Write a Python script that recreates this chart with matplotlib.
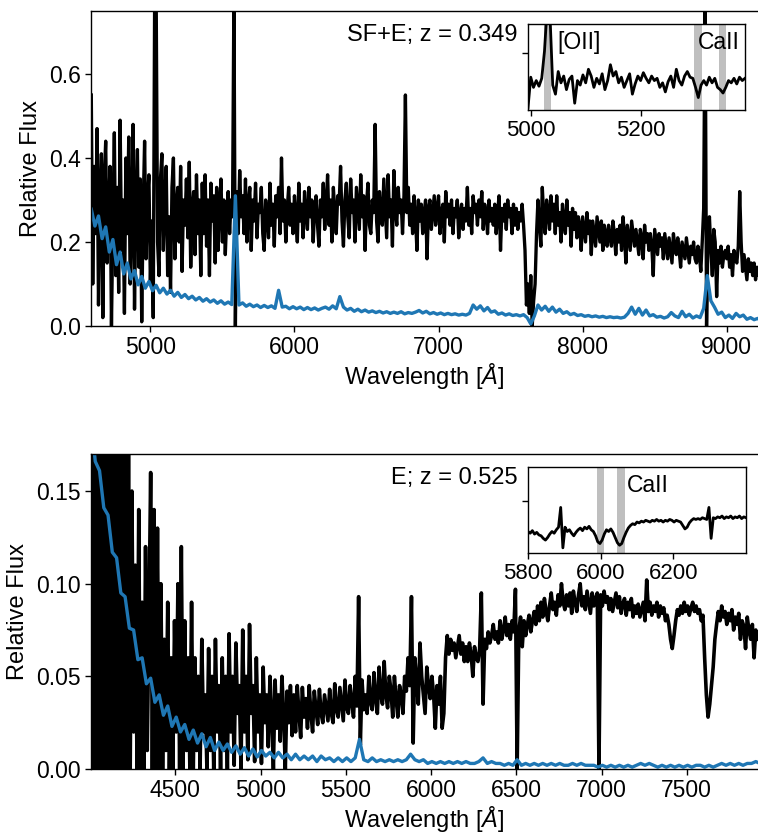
import numpy as np
import matplotlib.pyplot as plt

plt.rcParams['font.family'] = ['Liberation Sans', 'DejaVu Sans']
plt.rcParams['mathtext.fontset'] = 'custom'
plt.rcParams['mathtext.rm'] = 'Liberation Sans'
plt.rcParams['mathtext.it'] = 'Liberation Sans:italic'

# ---- SF+E; z = 0.349 : galaxy flux (black), 10 A bins from 4590 A
sfe_start, sfe_step = 4590, 10
sfe_flux = [
    0.55, 0.10, 0.38, 0.22, 0.47, 0.05, 0.30, 0.41, 0.02, 0.35, 0.44, 0.15, 0.28, 0.38, 0.00, 0.25, 0.46, 0.12, 0.33, 0.08,
    0.49, 0.18, 0.30, 0.03, 0.40, 0.22, 0.45, 0.10, 0.26, 0.48, 0.04, 0.30, 0.42, 0.14, 0.35, 0.01, 0.28, 0.44, 0.16, 0.30,
    0.36, 0.10, 0.25, 0.02, 0.80, 0.80, 0.20, 0.12, 0.35, 0.41, 0.18, 0.30, 0.38, 0.12, 0.26, 0.08, 0.33, 0.40, 0.16, 0.28,
    0.33, 0.20, 0.38, 0.13, 0.30, 0.24, 0.35, 0.21, 0.39, 0.14, 0.28, 0.32, 0.17, 0.36, 0.22, 0.30, 0.12, 0.34, 0.22, 0.36,
    0.19, 0.30, 0.12, 0.34, 0.25, 0.31, 0.15, 0.33, 0.18, 0.28, 0.35, 0.20, 0.30, 0.17, 0.26, 0.32, 0.22, 0.30, 0.26, 0.80,
    0.00, 0.32, 0.22, 0.37, 0.26, 0.31, 0.22, 0.35, 0.20, 0.29, 0.33, 0.18, 0.30, 0.25, 0.34, 0.21, 0.29, 0.27, 0.33, 0.22,
    0.18, 0.30, 0.26, 0.21, 0.34, 0.24, 0.29, 0.19, 0.31, 0.26, 0.33, 0.22, 0.40, 0.25, 0.30, 0.20, 0.28, 0.33, 0.24, 0.29,
    0.22, 0.31, 0.26, 0.20, 0.34, 0.25, 0.29, 0.21, 0.32, 0.27, 0.23, 0.33, 0.26, 0.30, 0.20, 0.28, 0.31, 0.24, 0.19, 0.30,
    0.26, 0.34, 0.23, 0.29, 0.36, 0.24, 0.30, 0.20, 0.33, 0.27, 0.22, 0.31, 0.29, 0.38, 0.25, 0.19, 0.30, 0.34, 0.26, 0.21,
    0.35, 0.27, 0.30, 0.20, 0.33, 0.28, 0.23, 0.36, 0.26, 0.31, 0.18, 0.29, 0.34, 0.24, 0.22, 0.30, 0.27, 0.48, 0.25, 0.20,
    0.32, 0.27, 0.24, 0.35, 0.28, 0.21, 0.36, 0.26, 0.30, 0.19, 0.37, 0.28, 0.24, 0.33, 0.27, 0.30, 0.22, 0.31, 0.55, 0.27,
    0.33, 0.24, 0.29, 0.22, 0.31, 0.26, 0.18, 0.30, 0.25, 0.29, 0.22, 0.27, 0.30, 0.16, 0.28, 0.30, 0.23, 0.27, 0.31, 0.24,
    0.28, 0.31, 0.22, 0.27, 0.29, 0.20, 0.32, 0.26, 0.29, 0.24, 0.30, 0.22, 0.28, 0.26, 0.30, 0.21, 0.27, 0.29, 0.23, 0.28,
    0.25, 0.33, 0.24, 0.28, 0.22, 0.31, 0.27, 0.29, 0.24, 0.30, 0.26, 0.32, 0.23, 0.29, 0.27, 0.22, 0.30, 0.25, 0.28, 0.24,
    0.29, 0.22, 0.27, 0.31, 0.18, 0.28, 0.25, 0.29, 0.23, 0.30, 0.26, 0.28, 0.22, 0.29, 0.24, 0.28, 0.23, 0.27, 0.25, 0.29,
    0.24, 0.18, 0.05, 0.10, 0.03, 0.12, 0.00, 0.06, 0.10, 0.22, 0.30, 0.24, 0.19, 0.33, 0.26, 0.22, 0.30, 0.27, 0.23, 0.31,
    0.25, 0.29, 0.22, 0.31, 0.24, 0.27, 0.20, 0.29, 0.25, 0.22, 0.30, 0.24, 0.27, 0.19, 0.28, 0.23, 0.27, 0.21, 0.26, 0.24,
    0.18, 0.26, 0.23, 0.20, 0.27, 0.22, 0.25, 0.17, 0.25, 0.22, 0.19, 0.26, 0.23, 0.20, 0.25, 0.18, 0.24, 0.22, 0.19, 0.24,
    0.21, 0.19, 0.25, 0.22, 0.17, 0.23, 0.20, 0.24, 0.18, 0.26, 0.22, 0.15, 0.24, 0.21, 0.18, 0.25, 0.22, 0.19, 0.23, 0.20,
    0.17, 0.23, 0.21, 0.16, 0.24, 0.20, 0.22, 0.18, 0.22, 0.19, 0.12, 0.23, 0.20, 0.17, 0.22, 0.19, 0.21, 0.16, 0.22, 0.19,
    0.16, 0.21, 0.18, 0.15, 0.22, 0.19, 0.17, 0.21, 0.18, 0.14, 0.20, 0.18, 0.16, 0.21, 0.18, 0.15, 0.19, 0.17, 0.20, 0.16,
    0.15, 0.19, 0.17, 0.13, 0.20, 0.28, 0.80, 0.00, 0.22, 0.26, 0.18, 0.12, 0.23, 0.20, 0.07, 0.18, 0.15, 0.19, 0.14, 0.17,
    0.18, 0.16, 0.19, 0.14, 0.17, 0.12, 0.18, 0.16, 0.15, 0.19, 0.32, 0.20, 0.13, 0.17, 0.14, 0.11, 0.16, 0.13, 0.15, 0.12,
    0.15, 0.11, 0.14, 0.12, 0.14,
]
# noise spectrum (blue), 25 A bins
sfe_err_start, sfe_err_step = 4590, 25
sfe_err = [
    0.278, 0.238, 0.262, 0.208, 0.236, 0.176, 0.206, 0.146, 0.176, 0.124,
    0.150, 0.112, 0.132, 0.098, 0.118, 0.090, 0.106, 0.084, 0.097, 0.079,
    0.090, 0.076, 0.085, 0.071, 0.080, 0.068, 0.075, 0.065, 0.071, 0.062,
    0.068, 0.059, 0.065, 0.057, 0.062, 0.054, 0.060, 0.052, 0.057, 0.051,
    0.310, 0.050, 0.055, 0.047, 0.052, 0.046, 0.050, 0.044, 0.049, 0.044,
    0.048, 0.042, 0.085, 0.045, 0.047, 0.041, 0.046, 0.041, 0.045, 0.039,
    0.044, 0.039, 0.043, 0.038, 0.042, 0.045, 0.040, 0.048, 0.041, 0.070,
    0.045, 0.038, 0.042, 0.035, 0.040, 0.034, 0.038, 0.033, 0.036, 0.032,
    0.035, 0.031, 0.034, 0.030, 0.033, 0.030, 0.034, 0.029, 0.032, 0.030,
    0.033, 0.037, 0.031, 0.035, 0.029, 0.032, 0.028, 0.031, 0.027, 0.030,
    0.027, 0.029, 0.026, 0.028, 0.026, 0.030, 0.050, 0.040, 0.048, 0.036,
    0.044, 0.033, 0.036, 0.028, 0.031, 0.026, 0.029, 0.025, 0.027, 0.024,
    0.027, 0.020, 0.005, 0.024, 0.050, 0.038, 0.047, 0.035, 0.045, 0.033,
    0.040, 0.030, 0.034, 0.027, 0.030, 0.025, 0.027, 0.023, 0.025, 0.022,
    0.024, 0.021, 0.023, 0.020, 0.022, 0.020, 0.021, 0.019, 0.021, 0.030,
    0.045, 0.028, 0.042, 0.026, 0.038, 0.024, 0.027, 0.021, 0.023, 0.019,
    0.022, 0.032, 0.024, 0.020, 0.035, 0.022, 0.028, 0.019, 0.024, 0.020,
    0.042, 0.120, 0.060, 0.045, 0.028, 0.033, 0.020, 0.026, 0.018, 0.030,
    0.022, 0.026, 0.016, 0.020, 0.015, 0.018, 0.014,
]
# zoom around [OII] / CaII, 5 A bins
sfe_zoom_start, sfe_zoom_step = 4995, 5
sfe_zoom = [
    0.110, 0.245, 0.200, 0.230, 0.205, 0.240, 0.360, 0.560, 0.520, 0.210,
    0.170, 0.270, 0.220, 0.250, 0.190, 0.235, 0.250, 0.130, 0.230, 0.210,
    0.255, 0.220, 0.280, 0.250, 0.200, 0.240, 0.215, 0.260, 0.190, 0.230,
    0.300, 0.250, 0.270, 0.220, 0.245, 0.200, 0.230, 0.260, 0.170, 0.215,
    0.250, 0.230, 0.265, 0.240, 0.220, 0.250, 0.230, 0.240, 0.200, 0.220,
    0.180, 0.225, 0.250, 0.200, 0.280, 0.230, 0.210, 0.250, 0.270, 0.245,
    0.240, 0.200, 0.155, 0.210, 0.230, 0.210, 0.245, 0.220, 0.240, 0.200,
    0.190, 0.175, 0.200, 0.230, 0.220, 0.240, 0.215, 0.245, 0.230, 0.240,
]
sfe_bands = [(5024, 5036), (5298, 5312), (5342, 5356)]

# ---- E; z = 0.525 : galaxy flux (black), 10 A bins from 4005 A
e_start, e_step = 4005, 10
e_flux = [
    0.25, 0.00, 0.25, 0.00, 0.25, 0.00, 0.25, 0.00, 0.25, 0.00, 0.25, 0.00, 0.25, 0.00, 0.25, 0.00, 0.25, 0.00, 0.25, 0.00,
    0.25, 0.00, 0.18, 0.00, 0.15, 0.02, 0.11, 0.00, 0.14, 0.00, 0.09, 0.00, 0.12, 0.01, 0.08, 0.16, 0.00, 0.14, 0.00, 0.13,
    0.00, 0.10, 0.00, 0.07, 0.01, 0.09, 0.00, 0.06, 0.00, 0.08, 0.02, 0.10, 0.00, 0.12, 0.00, 0.08, 0.01, 0.06, 0.00, 0.09,
    0.00, 0.06, 0.01, 0.05, 0.00, 0.07, 0.02, 0.04, 0.00, 0.065, 0.01, 0.05, 0.00, 0.07, 0.02, 0.045, 0.00, 0.06, 0.01, 0.05,
    0.00, 0.073, 0.02, 0.05, 0.002, 0.068, 0.03, 0.045, 0.00, 0.075, 0.02, 0.05, 0.005, 0.078, 0.03, 0.045, 0.004, 0.06, 0.02, 0.04,
    0.003, 0.055, 0.025, 0.04, 0.012, 0.05, 0.03, 0.00, 0.048, 0.022, 0.04, 0.015, 0.05, 0.03, 0.00, 0.042, 0.025, 0.045, 0.018, 0.04,
    0.02, 0.045, 0.03, 0.017, 0.044, 0.028, 0.038, 0.022, 0.045, 0.03, 0.02, 0.042, 0.032, 0.024, 0.043, 0.03, 0.025, 0.04, 0.033, 0.026,
    0.043, 0.03, 0.025, 0.046, 0.032, 0.028, 0.044, 0.035, 0.026, 0.048, 0.033, 0.03, 0.045, 0.036, 0.028, 0.05, 0.034, 0.093, 0.013, 0.048,
    0.032, 0.04, 0.03, 0.05, 0.036, 0.032, 0.052, 0.038, 0.03, 0.055, 0.04, 0.035, 0.058, 0.04, 0.033, 0.05, 0.042, 0.028, 0.05, 0.038,
    0.028, 0.045, 0.04, 0.03, 0.05, 0.042, 0.06, 0.045, 0.093, 0.014, 0.06, 0.048, 0.035, 0.068, 0.05, 0.04, 0.03, 0.055, 0.045, 0.038,
    0.05, 0.04, 0.022, 0.045, 0.035, 0.05, 0.022, 0.03, 0.06, 0.072, 0.062, 0.07, 0.064, 0.068, 0.06, 0.066, 0.072, 0.062, 0.068, 0.058,
    0.066, 0.058, 0.068, 0.062, 0.05, 0.066, 0.06, 0.058, 0.065, 0.095, 0.035, 0.07, 0.065, 0.074, 0.068, 0.072, 0.078, 0.07, 0.074, 0.068,
    0.08, 0.07, 0.075, 0.082, 0.072, 0.078, 0.07, 0.08, 0.074, 0.097, 0.0, 0.075, 0.082, 0.066, 0.08, 0.072, 0.078, 0.083, 0.074, 0.08,
    0.085, 0.078, 0.088, 0.08, 0.09, 0.082, 0.092, 0.085, 0.08, 0.088, 0.095, 0.086, 0.09, 0.083, 0.094, 0.088, 0.1, 0.09, 0.086, 0.094,
    0.088, 0.095, 0.084, 0.096, 0.09, 0.085, 0.094, 0.1, 0.088, 0.093, 0.086, 0.096, 0.09, 0.084, 0.095, 0.088, 0.092, 0.095, 0.0, 0.094,
    0.088, 0.096, 0.09, 0.093, 0.086, 0.092, 0.085, 0.09, 0.095, 0.087, 0.093, 0.084, 0.089, 0.092, 0.083, 0.09, 0.086, 0.092, 0.082, 0.088,
    0.084, 0.089, 0.082, 0.086, 0.09, 0.08, 0.102, 0.085, 0.09, 0.083, 0.088, 0.085, 0.09, 0.082, 0.088, 0.084, 0.087, 0.08, 0.083, 0.078,
    0.07, 0.065, 0.072, 0.08, 0.086, 0.083, 0.088, 0.084, 0.09, 0.085, 0.088, 0.083, 0.087, 0.09, 0.085, 0.088, 0.084, 0.086, 0.08, 0.083,
    0.06, 0.04, 0.028, 0.035, 0.045, 0.055, 0.07, 0.078, 0.085, 0.08, 0.088, 0.082, 0.085, 0.078, 0.084, 0.08, 0.086, 0.075, 0.082, 0.078,
    0.084, 0.07, 0.08, 0.077, 0.065, 0.082, 0.075, 0.07, 0.078, 0.06, 0.075, 0.07,
]
# noise spectrum (blue), 25 A bins
e_err_start, e_err_step = 4005, 25
e_err = [
    0.189, 0.166, 0.161, 0.141, 0.137, 0.117, 0.114, 0.095, 0.093, 0.076,
    0.075, 0.059, 0.060, 0.046, 0.049, 0.036, 0.040, 0.029, 0.034, 0.023,
    0.028, 0.020, 0.024, 0.016, 0.021, 0.014, 0.019, 0.012, 0.017, 0.010,
    0.0145, 0.010, 0.0135, 0.009, 0.0125, 0.008, 0.0115, 0.007, 0.0108, 0.0065,
    0.010, 0.007, 0.009, 0.006, 0.009, 0.006, 0.008, 0.005, 0.008, 0.005,
    0.007, 0.005, 0.007, 0.004, 0.007, 0.005, 0.006, 0.004, 0.006, 0.004,
    0.006, 0.004, 0.006, 0.016, 0.005, 0.004, 0.006, 0.004, 0.005, 0.004,
    0.005, 0.004, 0.005, 0.004, 0.005, 0.008, 0.005, 0.004, 0.005, 0.003,
    0.004, 0.003, 0.004, 0.003, 0.004, 0.003, 0.004, 0.003, 0.004, 0.003,
    0.003, 0.004, 0.006, 0.003, 0.004, 0.003, 0.003, 0.002, 0.003, 0.002,
    0.005, 0.002, 0.003, 0.002, 0.003, 0.002, 0.003, 0.002, 0.003, 0.002,
    0.003, 0.002, 0.002, 0.003, 0.002, 0.003, 0.002, 0.002, 0.002, 0.001,
    0.002, 0.001, 0.002, 0.001, 0.002, 0.001, 0.002, 0.001, 0.002, 0.003,
    0.002, 0.003, 0.002, 0.001, 0.002, 0.001, 0.002, 0.001, 0.002, 0.001,
    0.002, 0.001, 0.002, 0.002, 0.001, 0.002, 0.001, 0.002, 0.003, 0.002,
    0.003, 0.002, 0.003, 0.002, 0.003, 0.003, 0.004, 0.003,
]
# zoom around CaII H+K, 6 A bins
e_zoom_start, e_zoom_step = 5800, 6
e_zoom = [
    0.045, 0.043, 0.046, 0.042, 0.044, 0.041, 0.040, 0.037, 0.035, 0.038,
    0.042, 0.045, 0.043, 0.047, 0.050, 0.073, 0.026, 0.050, 0.045, 0.047,
    0.043, 0.040, 0.044, 0.047, 0.049, 0.046, 0.050, 0.048, 0.051, 0.047,
    0.045, 0.040, 0.033, 0.031, 0.035, 0.042, 0.047, 0.045, 0.048, 0.044,
    0.038, 0.032, 0.029, 0.031, 0.038, 0.044, 0.049, 0.052, 0.054, 0.053,
    0.056, 0.055, 0.057, 0.056, 0.058, 0.057, 0.056, 0.058, 0.057, 0.059,
    0.057, 0.058, 0.056, 0.058, 0.057, 0.059, 0.058, 0.056, 0.058, 0.057,
    0.056, 0.052, 0.048, 0.050, 0.055, 0.058, 0.060, 0.059, 0.060, 0.059,
    0.061, 0.060, 0.059, 0.073, 0.037, 0.061, 0.060, 0.062, 0.061, 0.063,
    0.060, 0.062, 0.061, 0.063, 0.060, 0.062, 0.061, 0.063, 0.060, 0.062,
    0.061,
]
e_bands = [(5990, 6010), (6046, 6066)]

BLUE = '#1f77b4'
W, H = 758, 833


def grid(start, step, vals):
    return start + step * np.arange(len(vals))


def main_panel(rect, wave, flux, ewave, err, xlim, ylim, xticks, yticks,
               label, lw=2.4):
    ax = fig.add_axes(rect)
    ax.plot(wave, flux, color='k', lw=lw)
    ax.plot(ewave, err, color=BLUE, lw=2.4)
    ax.set_xlim(xlim)
    ax.set_ylim(ylim)
    ax.set_xticks(xticks)
    ax.set_yticks(yticks)
    ax.spines['right'].set_visible(False)
    for s in ax.spines.values():
        s.set_linewidth(1.0)
    ax.tick_params(direction='out', length=4, width=1, labelsize=16.5)
    ax.set_xlabel(r'Wavelength [$\mathit{\AA}$]', fontsize=17, labelpad=1)
    ax.set_ylabel('Relative Flux', fontsize=17, labelpad=5)
    ax.text(0.639, 0.924, label, transform=ax.transAxes, ha='right',
            va='center', fontsize=17)
    return ax


def inset(rect, wave, flux, bands, xlim, ylim, xticks, ytick, notes):
    ins = fig.add_axes(rect, zorder=5)
    ins.set_facecolor('white')
    for a, b in bands:
        ins.axvspan(a, b, color='0.75', lw=0, zorder=1)
    ins.plot(wave, flux, color='k', lw=2.0, zorder=2)
    ins.set_xlim(xlim)
    ins.set_ylim(ylim)
    ins.set_xticks(xticks)
    ins.set_yticks([ytick])
    ins.set_yticklabels([])
    for s in ins.spines.values():
        s.set_linewidth(1.0)
    ins.tick_params(direction='out', length=4, width=1, labelsize=16)
    tr = ins.get_xaxis_transform()
    for x, y, t in notes:
        ins.text(x, y, t, transform=tr, ha='left', va='center', fontsize=16.5)
    return ins


fig = plt.figure(figsize=(W / 100, H / 100), dpi=100)

# top panel
main_panel([91 / W, 1 - 326 / H, 1 - 91 / W, 315 / H],
           grid(sfe_start, sfe_step, sfe_flux), sfe_flux,
           grid(sfe_err_start, sfe_err_step, sfe_err), sfe_err,
           (4588, 9217), (0, 0.75), [5000, 6000, 7000, 8000, 9000],
           [0.0, 0.2, 0.4, 0.6], 'SF+E; z = 0.349')
inset([528 / W, 1 - 110 / H, 217 / W, 86 / H],
      grid(sfe_zoom_start, sfe_zoom_step, sfe_zoom), sfe_zoom, sfe_bands,
      (4995, 5390), (0.1, 0.48), [5000, 5200], 0.35,
      [(5048, 0.78, '[OII]'), (5304, 0.78, 'CaII')])

# bottom panel
main_panel([91 / W, 1 - 769 / H, 1 - 91 / W, 315 / H],
           grid(e_start, e_step, e_flux), e_flux,
           grid(e_err_start, e_err_step, e_err), e_err,
           (4005, 7918), (0, 0.17), [4500, 5000, 5500, 6000, 6500, 7000, 7500],
           [0.00, 0.05, 0.10, 0.15], 'E; z = 0.525', lw=2.6)
inset([528 / W, 1 - 553 / H, 218 / W, 86 / H],
      grid(e_zoom_start, e_zoom_step, e_zoom), e_zoom, e_bands,
      (5800, 6400), (0.02, 0.12), [5800, 6000, 6200], 0.08,
      [(6072, 0.79, 'CaII')])

fig.savefig('out.png', dpi=100)
